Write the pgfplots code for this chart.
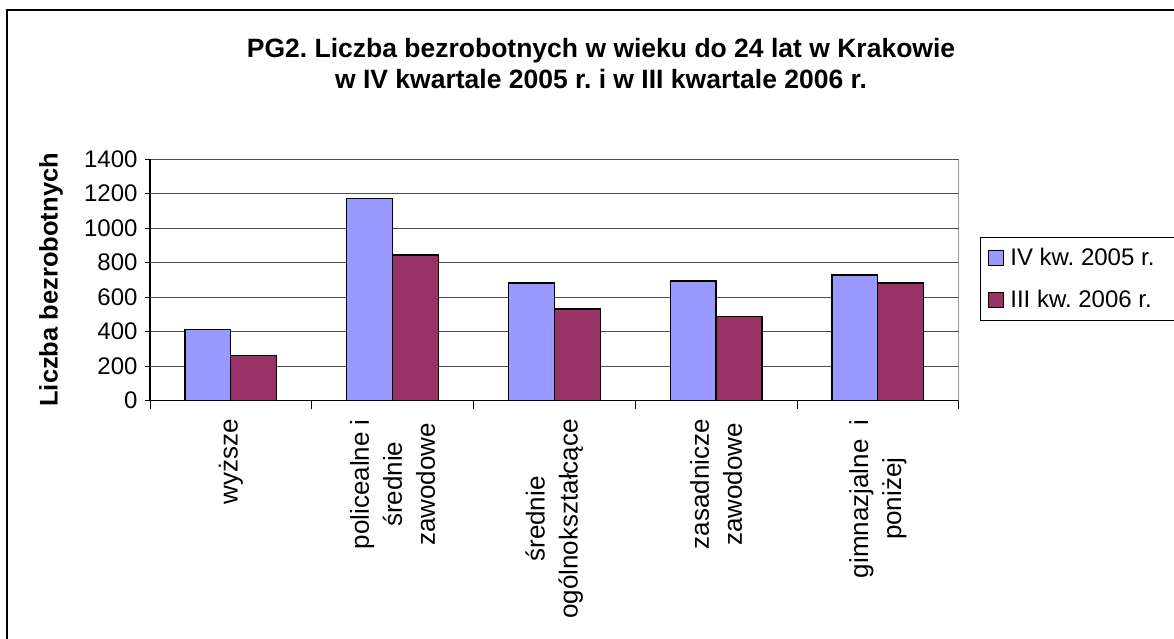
\documentclass[border=0pt]{standalone}
\usepackage{fontspec}
\setmainfont{Liberation Sans}
\usepackage{pgfplots}
\pgfplotsset{compat=1.18}
\definecolor{blu}{RGB}{153,153,255}
\definecolor{plum}{RGB}{153,51,102}
\begin{document}
\frenchspacing
\begin{tikzpicture}[x=1pt,y=1pt]
\useasboundingbox (0,0) rectangle (1174,639);
\draw[line width=1.5pt] (7,-10) -- (7,629) -- (1190,629);
\node[font=\bfseries\fontsize{26.5}{31}\selectfont, align=center] at (601,575.5)
  {PG2. Liczba bezrobotnych w wieku do 24 lat w Krakowie\\w IV kwartale 2005 r. i w III kwartale 2006 r.};
\begin{axis}[
  at={(150pt,238.3pt)}, anchor=south west,
  width=808.7pt, height=241.7pt, scale only axis,
  ybar=0pt, bar width=0.284,
  xmin=0.5, xmax=5.5, ymin=0, ymax=1400,
  ytick={0,200,...,1400},
  xtick={1,...,5},
  xticklabels={{wyższe},{policealne i\\średnie\\zawodowe},{średnie\\ogólnokształcące},{zasadnicze\\zawodowe},{gimnazjalne\ \ i\\poniżej}},
  minor xtick={0.5,1.5,...,5.5},
  axis x line*=bottom, axis y line*=left,
  axis line style={black, line width=1.2pt, -},
  tick align=outside,
  major x tick style={draw=none},
  minor x tick style={black, line width=0.8pt},
  minor tick length=8pt,
  major y tick style={black, line width=0.8pt},
  major tick length=5pt,
  ymajorgrids, grid style={black!70, line width=0.8pt},
  /pgf/number format/assume math mode=true,
  /pgf/number format/1000 sep={},
  yticklabel style={font=\fontsize{24}{27}\selectfont, xshift=-4pt},
  x tick label style={font=\fontsize{26}{33}\selectfont, yshift=-10pt, rotate=90, anchor=east, align=center},
  ylabel={Liczba bezrobotnych},
  ylabel style={font=\bfseries\fontsize{25.5}{30}\selectfont, at={(axis description cs:-0.1224,0.5)}, anchor=center},
  legend style={at={(axis description cs:1.0263,0.677)}, anchor=north west,
    draw=black, line width=0.8pt, font=\fontsize{24}{29}\selectfont,
    row sep=19pt, inner xsep=6pt, inner ysep=9pt},
  legend cell align=left,
  legend image code/.code={\path[draw=none,fill=none] (0pt,0pt) -- (22pt,0pt);\draw[#1,draw=black,line width=1.2pt] (2pt,-7.5pt) rectangle (17pt,7.5pt);},
]
\addplot[fill=blu, draw=black, line width=1.2pt] coordinates {(1,414) (2,1170) (3,682) (4,693) (5,728)};
\addplot[fill=plum, draw=black, line width=1.2pt] coordinates {(1,263) (2,844) (3,531) (4,486) (5,682)};
\legend{IV kw. 2005 r.\rule{25pt}{0pt},III kw. 2006 r.\rule{25pt}{0pt}}
\draw[black!60, line width=1pt] (rel axis cs:1,0) -- (rel axis cs:1,1);
\end{axis}
\end{tikzpicture}
\end{document}
